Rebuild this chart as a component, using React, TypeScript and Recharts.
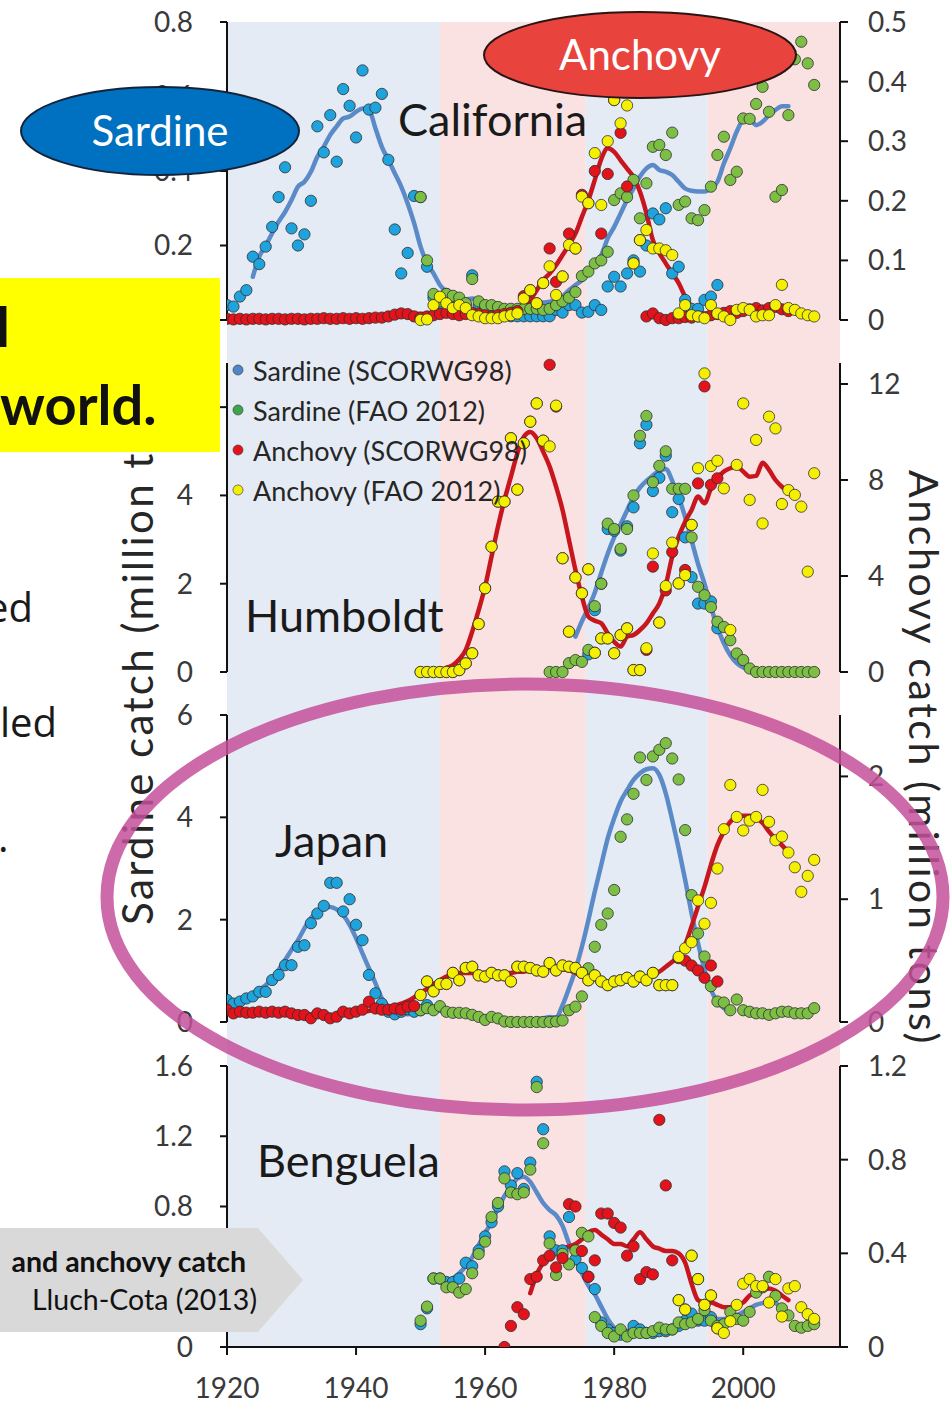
import React from 'react';
import {
  ComposedChart, Scatter, Line, XAxis, YAxis, ZAxis,
  ReferenceArea, ReferenceLine, Legend,
} from 'recharts';

// ---------------- DATA ----------------
const YEAR_TICKS = [1920, 1940, 1960, 1980, 2000];

// California (sardine: left axis, million t; anchovy: right axis, million t)
const calSarSC = [
  0.04, 0.036, 0.063, 0.08, 0.17, 0.15, 0.197, 0.25, 0.33, 0.41,
  0.246, 0.2, 0.23, 0.32, 0.52, 0.45, 0.55, 0.425, 0.62, 0.575,
  0.49, 0.67, 0.565, 0.57, 0.607, 0.43, 0.243, 0.125, 0.18, 0.333,
  0.33, 0.143, 0.06, 0.045, 0.07, 0.06, 0.05, 0.04, 0.12, 0.04,
  0.03, 0.03, 0.02, 0.02, 0.01, 0.01, 0.01, 0.01, 0.01, 0.01,
  0.01, 0.027, 0.02, 0.04, 0.04, 0.02, 0.022, 0.04, 0.027, 0.09,
  0.116, 0.09, 0.125, 0.16, 0.13, 0.2, 0.286, 0.27, 0.3, 0.125,
  0.143, 0.054, 0.03, 0.03, 0.054, 0.063, 0.094,
]; // 1920-1996
const calSarFAO = [
  0.33, 0.16, 0.07, 0.05, 0.07, 0.065, 0.06, 0.045, 0.11, 0.05,
  0.04, 0.04, 0.035, 0.03, 0.03, 0.03, 0.03, 0.03, 0.03, 0.027,
  0.03, 0.04, 0.05, 0.06, 0.075, 0.118, 0.13, 0.152, 0.16, 0.183,
  0.322, 0.34, 0.33, 0.376, 0.273, 0.367, 0.465, 0.47, 0.443, 0.503,
  0.309, 0.318, 0.273, 0.268, 0.295, 0.358, 0.443, 0.492, 0.376, 0.398,
  0.541, 0.54, 0.58, 0.626, 0.559, 0.331, 0.349, 0.55, 0.7, 0.747, 0.689, 0.631,
]; // 1950-2011
const calAncSC = [
  0.002, 0.001, 0.002, 0.001, 0.002, 0.002, 0.001, 0.002, 0.002, 0.001,
  0.002, 0.002, 0.001, 0.002, 0.002, 0.003, 0.002, 0.002, 0.003, 0.002,
  0.003, 0.002, 0.003, 0.004, 0.004, 0.006, 0.009, 0.011, 0.01, 0.006,
  0.004, 0.006, 0.008, 0.01, 0.012, 0.01, 0.008, 0.01, 0.012, 0.01,
  0.008, 0.006, 0.008, 0.01, 0.012, 0.015, 0.04, 0.05, 0.028, 0.062,
  0.12, 0.064, 0.073, 0.145, 0.12, 0.21, 0.196, 0.25, 0.145, 0.245,
  0.369, 0.314, 0.224, 0.095, 0.134, 0.006, 0.011, 0.003, 0.0, 0.003,
  0.003, 0.005, 0.004, 0.006, 0.005, 0.008, 0.01, 0.012, 0.015, 0.012,
  0.015, 0.018, 0.02, 0.016, 0.02, 0.022, 0.018, 0.015,
]; // 1920-2007
const calAncFAO = [
  0.0, 0.001, 0.025, 0.039, 0.028, 0.02, 0.025, 0.02, 0.008, 0.006,
  0.003, 0.003, 0.003, 0.006, 0.008, 0.011, 0.036, 0.05, 0.028, 0.062,
  0.09, 0.042, 0.073, 0.126, 0.12, 0.207, 0.196, 0.28, 0.193, 0.3,
  0.369, 0.33, 0.36, 0.095, 0.134, 0.151, 0.12, 0.12, 0.117, 0.109,
  0.011, 0.025, 0.008, 0.006, 0.003, 0.025, 0.011, 0.006, 0.0, 0.017,
  0.02, 0.017, 0.006, 0.008, 0.008, 0.025, 0.059, 0.02, 0.017, 0.011, 0.008, 0.006,
]; // 1950-2011
const calSarLine = [
  0.116, 0.17, 0.2, 0.233, 0.264, 0.29,
  0.322, 0.358, 0.371, 0.398, 0.438, 0.465, 0.497, 0.52, 0.541, 0.546,
  0.559, 0.568, 0.564, 0.515, 0.465, 0.43, 0.394, 0.358, 0.313, 0.26,
  0.197, 0.152, 0.125, 0.094, 0.076, 0.063, 0.055, 0.055, 0.058, 0.054,
  0.047, 0.038, 0.031, 0.031, 0.034, 0.038, 0.04, 0.04, 0.043, 0.047,
  0.049, 0.054, 0.064, 0.08, 0.094, 0.107, 0.13, 0.152, 0.174, 0.219,
  0.25, 0.286, 0.322, 0.353, 0.385, 0.407, 0.416, 0.403, 0.398, 0.389,
  0.371, 0.353, 0.347, 0.345, 0.345, 0.353, 0.371, 0.42, 0.461, 0.506,
  0.537, 0.541, 0.523, 0.532, 0.55, 0.564, 0.574, 0.574,
]; // 1924-2007
const calAncLine = [
  0.003, 0.003, 0.003, 0.003, 0.003, 0.003, 0.003, 0.003, 0.003, 0.003,
  0.003, 0.003, 0.003, 0.003, 0.003, 0.003, 0.003, 0.003, 0.003, 0.003,
  0.003, 0.003, 0.003, 0.004, 0.004, 0.005, 0.006, 0.008, 0.01, 0.01,
  0.01, 0.01, 0.01, 0.01, 0.01, 0.01, 0.01, 0.01, 0.01, 0.01,
  0.01, 0.01, 0.011, 0.012, 0.014, 0.017, 0.023, 0.034, 0.05, 0.067,
  0.078, 0.092, 0.109, 0.126, 0.145, 0.173, 0.201, 0.235, 0.27, 0.288,
  0.282, 0.268, 0.254, 0.24, 0.215, 0.179, 0.134, 0.112, 0.095, 0.078,
  0.062, 0.039, 0.022, 0.008, 0.001, 0.005, 0.012, 0.013, 0.012, 0.012,
  0.012, 0.013, 0.014, 0.014, 0.018, 0.022, 0.02, 0.016,
]; // 1920-2007

// Humboldt
const humSarSC = [
  0.4, 1.4, 2.0, 3.24, 3.2, 2.75, 3.3, 3.73, 5.18, 5.6,
  4.1, 4.4, 4.9, 3.62, 3.92, 3.05, 2.15, 1.55, 1.55, 1.6, 0.99,
]; // 1976-1996
const humSarFAO = [
  0, 0, 0, 0.2, 0.27, 0.23, 0.5, 1.49, 2.0, 3.36,
  3.24, 2.79, 3.24, 4.0, 5.35, 5.8, 4.3, 4.67, 5.0, 4.15,
  4.15, 4.15, 3.05, 1.93, 1.74, 1.47, 1.14, 1.02, 0.72, 0.42,
  0.27, 0.08, 0, 0, 0, 0, 0, 0, 0, 0, 0, 0,
]; // 1970-2011
const humAncSC = [
  0, 0, 0, 0, 0, 0, 0.08, 0.36, 0.78, 2.0,
  3.49, 5.22, 7.1, 7.1, 9.74, 7.6, 9.53, 10.43, 11.19, 9.64,
  12.8, 11.06, 4.74, 1.68, 3.94, 3.28, 4.28, 0.8, 1.4, 1.4,
  0.78, 1.54, 1.82, 0.08, 0.08, 0.92, 4.39, 2.06, 3.4, 5.0,
  3.69, 4.25, 6.13, 7.86, 11.9, 7.8, 8.07,
]; // 1950-1996
const humAncFAO = [
  0, 0, 0, 0, 0, 0, 0.08, 0.36, 0.78, 2.0,
  3.49, 5.22, 7.1, 7.1, 9.74, 7.6, 9.53, 10.43, 11.19, 9.64,
  9.4, 11.1, 4.74, 1.68, 3.94, 3.28, 4.28, 0.8, 1.4, 1.4,
  0.78, 1.54, 1.82, 0.08, 0.08, 0.99, 4.94, 2.06, 3.58, 5.39,
  3.69, 4.04, 6.13, 8.49, 12.44, 8.58, 8.8, 7.65, 1.75, 8.63,
  11.19, 7.17, 9.67, 6.19, 10.64, 10.15, 7.0, 7.58, 7.38, 6.89, 4.18, 8.28,
]; // 1950-2011
const humSarLine = [
  0.8, 1.15, 1.45, 1.8, 2.25, 2.68, 3.05, 3.35, 3.66, 3.96,
  4.18, 4.33, 4.45, 4.56, 4.6, 4.33, 3.96, 3.51, 2.98, 2.45,
  2.0, 1.47, 1.02, 0.65, 0.38, 0.2, 0.1, 0.06, 0.05, 0.03,
]; // 1974-2003
const humAncLine = [
  0.18, 0.29, 0.53, 0.92, 1.68, 2.58,
  3.56, 4.81, 6.06, 7.17, 8.14, 9.11, 9.8, 10.0, 9.74, 9.18,
  8.56, 7.72, 6.75, 5.5, 4.25, 3.14, 2.31, 2.14, 2.03, 1.61,
  1.26, 1.06, 1.47, 1.54, 1.75, 2.03, 2.44, 2.86, 3.63, 4.81,
  5.64, 6.26, 6.75, 7.31, 7.03, 7.65, 8.07, 8.35, 8.49, 8.56,
  8.35, 8.14, 8.17, 8.72, 8.42, 8.0, 7.72, 7.51,
]; // 1954-2007

// Japan
const japSarSC = [
  0.43, 0.36, 0.4, 0.46, 0.5, 0.59, 0.59, 0.82, 0.92, 1.11,
  1.11, 1.47, 1.5, 1.93, 2.12, 2.27, 2.72, 2.72, 2.16, 2.4,
  1.9, 1.6, 0.92, 0.56, 0.36, 0.2, 0.15, 0.2, 0.25, 0.2,
  0.23, 0.33,
]; // 1920-1951
const japSarFAO = [
  0.23, 0.27, 0.23, 0.31, 0.2, 0.18, 0.18, 0.17, 0.14, 0.1,
  0.04, 0.1, 0.07, 0.01, 0.0, 0.0, 0.0, 0.0, 0.0, 0.0,
  0.0, 0.01, 0.03, 0.23, 0.3, 0.5, 1.05, 1.47, 1.9, 2.12,
  2.58, 3.62, 3.96, 4.46, 5.17, 4.73, 5.19, 5.32, 5.45, 5.15,
  4.74, 3.75, 2.48, 1.73, 1.28, 0.7, 0.4, 0.38, 0.23, 0.44,
  0.23, 0.2, 0.17, 0.17, 0.14, 0.17, 0.2, 0.2, 0.17, 0.17, 0.17, 0.27,
]; // 1950-2011
const japAncSC = [
  0.1, 0.07, 0.084, 0.076, 0.076, 0.084, 0.076, 0.084, 0.076, 0.084,
  0.07, 0.057, 0.057, 0.03, 0.07, 0.057, 0.03, 0.043, 0.084, 0.07,
  0.084, 0.1, 0.165, 0.11, 0.1, 0.1, 0.11, 0.1, 0.125, 0.13,
  0.22, 0.33, 0.25, 0.31, 0.31, 0.4, 0.34, 0.44, 0.45, 0.38,
  0.37, 0.4, 0.38, 0.38, 0.33, 0.45, 0.45, 0.44, 0.42, 0.41,
  0.48, 0.42, 0.46, 0.45, 0.44, 0.4, 0.34, 0.38, 0.33, 0.3,
  0.33, 0.34, 0.36, 0.33, 0.37, 0.34, 0.4, 0.3, 0.3, 0.3,
  0.52, 0.5, 0.46, 0.42, 0.36, 0.46, 0.33,
]; // 1920-1996
const japAncFAO = [
  0.22, 0.33, 0.25, 0.31, 0.31, 0.4, 0.34, 0.44, 0.45, 0.38,
  0.37, 0.4, 0.38, 0.38, 0.33, 0.45, 0.45, 0.44, 0.42, 0.41,
  0.48, 0.42, 0.46, 0.45, 0.44, 0.4, 0.34, 0.38, 0.33, 0.3,
  0.33, 0.34, 0.36, 0.33, 0.37, 0.34, 0.4, 0.3, 0.3, 0.3,
  0.53, 0.6, 0.65, 0.99, 0.8, 0.97, 1.25, 1.57, 1.93, 1.67,
  1.56, 1.64, 1.67, 1.89, 1.63, 1.48, 1.51, 1.38, 1.26, 1.06, 1.19, 1.32,
]; // 1950-2011
const japSarLine = [
  0.33, 0.38, 0.42, 0.48, 0.54, 0.63, 0.72, 0.85, 1.02, 1.21,
  1.41, 1.6, 1.83, 2.03, 2.16, 2.23, 2.25, 2.2, 2.09, 1.9,
  1.64, 1.34, 1.05, 0.76, 0.46, 0.3, 0.2, 0.17, 0.15, 0.18,
  0.2, 0.22, 0.23, 0.22, 0.2, 0.17, 0.14, 0.12, 0.1, 0.08,
  0.07, 0.06, 0.05, 0.05, 0.05, 0.05, 0.05, 0.05, 0.06, 0.07,
  0.1, 0.09, 0.33, 0.66, 1.02, 1.47, 1.99, 2.55, 3.07, 3.59,
  3.98, 4.31, 4.53, 4.73, 4.86, 4.94, 4.96, 4.83, 4.47, 3.95,
  3.39, 2.78, 2.12, 1.54, 1.02, 0.63, 0.4, 0.27, 0.2,
]; // 1920-1998
const japAncLine = [
  0.08, 0.08, 0.08, 0.08, 0.08, 0.08, 0.08, 0.078, 0.076, 0.075,
  0.072, 0.068, 0.064, 0.06, 0.058, 0.056, 0.055, 0.058, 0.064, 0.072,
  0.08, 0.084, 0.09, 0.1, 0.11, 0.12, 0.13, 0.15, 0.17, 0.2,
  0.24, 0.27, 0.31, 0.34, 0.37, 0.39, 0.4, 0.4, 0.4, 0.4,
  0.4, 0.4, 0.4, 0.4, 0.4, 0.41, 0.41, 0.42, 0.43, 0.43,
  0.44, 0.43, 0.43, 0.42, 0.4, 0.38, 0.36, 0.35, 0.33, 0.33,
  0.33, 0.33, 0.34, 0.35, 0.36, 0.37, 0.38, 0.41, 0.45, 0.49,
  0.54, 0.63, 0.78, 0.94, 1.1, 1.28, 1.44, 1.55, 1.63, 1.67,
  1.68, 1.68, 1.66, 1.62, 1.55, 1.49, 1.44, 1.38,
]; // 1920-2007

// Benguela
const bngSarSC = [
  0.13, 0.22, 0.39, 0.39, 0.37, 0.37, 0.39, 0.48, 0.46, 0.55,
  0.63, 0.71, 0.8, 1.0, 0.92, 0.99, 0.9, 1.05, 1.51, 1.24,
  0.63, 0.55, 0.55, 0.74, 0.5, 0.45, 0.4, 0.33, 0.14, 0.1,
  0.08, 0.07, 0.07, 0.12, 0.1, 0.08, 0.08, 0.09, 0.09, 0.1,
  0.12, 0.15, 0.19, 0.15, 0.15, 0.17,
]; // 1950-1995
const bngSarFAO = [
  0.15, 0.23, 0.39, 0.39, 0.34, 0.34, 0.31, 0.33, 0.42, 0.53,
  0.6, 0.74, 0.82, 0.96, 0.88, 0.87, 0.88, 1.01, 1.48, 1.16,
  0.59, 0.41, 0.53, 0.47, 0.55, 0.65, 0.63, 0.17, 0.12, 0.08,
  0.06, 0.1, 0.06, 0.08, 0.08, 0.08, 0.09, 0.11, 0.1, 0.1,
  0.14, 0.13, 0.14, 0.16, 0.21, 0.15, 0.12, 0.13, 0.2, 0.16,
  0.15, 0.2, 0.31, 0.34, 0.4, 0.29, 0.22, 0.18, 0.12, 0.11, 0.12, 0.13,
]; // 1950-2011
const bngAncSC = [
  0.0, 0.09, 0.17, 0.14, 0.29, 0.3, 0.37,
  0.39, 0.34, 0.38, 0.61, 0.6, 0.41, 0.3, 0.37, 0.57, 0.57,
  0.53, 0.51, 0.39, 0.43, 0.29, 0.32, 0.31, 0.97, 0.69, 0.37,
  0.2, 0.16, 0.39, 0.29, 0.18, 0.22, 0.08,
]; // 1963-1996
const bngAncFAO = [
  0.2, 0.16, 0.39, 0.29, 0.18, 0.22, 0.08, 0.06, 0.11, 0.18,
  0.27, 0.29, 0.26, 0.26, 0.19, 0.29, 0.13, 0.25, 0.26, 0.17, 0.14, 0.12,
]; // 1990-2011
const bngSarLine = [
  0.39, 0.42, 0.46, 0.51, 0.58,
  0.65, 0.71, 0.79, 0.86, 0.91, 0.96, 0.97, 0.94, 0.88, 0.82,
  0.78, 0.75, 0.69, 0.59, 0.5, 0.42, 0.35, 0.3, 0.23, 0.16,
  0.11, 0.08, 0.08, 0.08, 0.08, 0.08, 0.08, 0.09, 0.09, 0.1,
  0.11, 0.13, 0.15, 0.16, 0.17, 0.17, 0.16, 0.16, 0.17, 0.18,
  0.2, 0.22, 0.24, 0.25, 0.26, 0.25, 0.22, 0.19,
]; // 1955-2007
const bngAncLine = [
  0.23, 0.31, 0.36,
  0.4, 0.41, 0.42, 0.43, 0.44, 0.46, 0.49, 0.5, 0.48, 0.46,
  0.44, 0.44, 0.43, 0.46, 0.49, 0.46, 0.43, 0.42, 0.41, 0.41,
  0.4, 0.36, 0.27, 0.2, 0.19, 0.19, 0.18, 0.17, 0.17, 0.18,
  0.19, 0.22, 0.23, 0.24, 0.25, 0.24, 0.22, 0.2,
]; // 1967-2007

const legendItems = [
  { label: 'Sardine (SCORWG98)', color: '#4F86C6' },
  { label: 'Sardine (FAO 2012)', color: '#3DA54A' },
  { label: 'Anchovy (SCORWG98)', color: '#E3121B' },
  { label: 'Anchovy (FAO 2012)', color: '#F4F000' },
];

// ---------------- STYLE / LAYOUT ----------------
const W = 951;
const H = 1404;
const PLOT_TOP = 22;
const PLOT_BOTTOM = 1347;
const PLOT_LEFT = 227;
const PLOT_RIGHT = 840;
const AXIS_W = 0.01;

const DOT_BLUE = '#1FA3DD';
const DOT_GREEN = '#7DBF45';
const DOT_RED = '#E3121B';
const DOT_YELLOW = '#F4F000';
const LINE_BLUE = '#5B8AC8';
const LINE_RED = '#C8161E';
const BAND_BLUE = '#E5EBF4';
const BAND_PINK = '#FAE2E2';

const bands = [
  { from: 1920, to: 1953, color: BAND_BLUE },
  { from: 1953, to: 1975.6, color: BAND_PINK },
  { from: 1975.6, to: 1994.5, color: BAND_BLUE },
  { from: 1994.5, to: 2015, color: BAND_PINK },
];

const pts = (start: number, vals: number[]) => vals.map((y, i) => ({ x: start + i, y }));

type Series = { start: number; vals: number[] };
type Panel = {
  id: string; top: number; bottom: number;
  leftMax: number; rightMax: number; leftTicks: number[]; rightTicks: number[];
  sarLine: Series; ancLine: Series;
  sarSC: Series; sarFAO: Series; ancSC: Series; ancFAO: Series;
};

const panels: Panel[] = [
  {
    id: 'cal', top: 22, bottom: 320, leftMax: 0.8, rightMax: 0.5,
    leftTicks: [0, 0.2, 0.4, 0.6, 0.8], rightTicks: [0, 0.1, 0.2, 0.3, 0.4, 0.5],
    sarLine: { start: 1924, vals: calSarLine }, ancLine: { start: 1920, vals: calAncLine },
    sarSC: { start: 1920, vals: calSarSC }, sarFAO: { start: 1950, vals: calSarFAO },
    ancSC: { start: 1920, vals: calAncSC }, ancFAO: { start: 1950, vals: calAncFAO },
  },
  {
    id: 'hum', top: 363, bottom: 672, leftMax: 7, rightMax: 12.875,
    leftTicks: [0, 2, 4, 6], rightTicks: [0, 4, 8, 12],
    sarLine: { start: 1974, vals: humSarLine }, ancLine: { start: 1954, vals: humAncLine },
    sarSC: { start: 1976, vals: humSarSC }, sarFAO: { start: 1970, vals: humSarFAO },
    ancSC: { start: 1950, vals: humAncSC }, ancFAO: { start: 1950, vals: humAncFAO },
  },
  {
    id: 'jap', top: 715, bottom: 1022, leftMax: 6, rightMax: 2.5,
    leftTicks: [0, 2, 4, 6], rightTicks: [0, 1, 2],
    sarLine: { start: 1920, vals: japSarLine }, ancLine: { start: 1920, vals: japAncLine },
    sarSC: { start: 1920, vals: japSarSC }, sarFAO: { start: 1950, vals: japSarFAO },
    ancSC: { start: 1920, vals: japAncSC }, ancFAO: { start: 1950, vals: japAncFAO },
  },
  {
    id: 'ben', top: 1066, bottom: 1347, leftMax: 1.6, rightMax: 1.2,
    leftTicks: [0, 0.4, 0.8, 1.2, 1.6], rightTicks: [0, 0.4, 0.8, 1.2],
    sarLine: { start: 1955, vals: bngSarLine }, ancLine: { start: 1967, vals: bngAncLine },
    sarSC: { start: 1950, vals: bngSarSC }, sarFAO: { start: 1950, vals: bngSarFAO },
    ancSC: { start: 1963, vals: bngAncSC }, ancFAO: { start: 1990, vals: bngAncFAO },
  },
];

// domain so that [0, max] occupies pixel rows [bottom, top] of the shared plot area
const panelDomain = (top: number, bottom: number, max: number): [number, number] => {
  const s = (bottom - top) / max;
  return [-(PLOT_BOTTOM - bottom) / s, max + (top - PLOT_TOP) / s];
};

const tickStyle = { fill: '#3a3a3a', fontSize: 28, fontFamily: 'Lato' };
const axisStroke = { stroke: '#111', strokeWidth: 2 };

const renderLegend = () => (
  <div style={{ fontFamily: 'Lato', fontSize: 27, color: '#262626' }}>
    {legendItems.map((it) => (
      <div key={it.label} style={{ display: 'flex', alignItems: 'center', height: 40 }}>
        <svg width={18} height={14} style={{ flex: 'none' }}>
          <circle cx={9} cy={7} r={5} fill={it.color} stroke="#444" strokeWidth={0.7} />
        </svg>
        <span style={{ marginLeft: 6, whiteSpace: 'nowrap' }}>{it.label}</span>
      </div>
    ))}
  </div>
);

const dotProps = { stroke: '#2e2e2e', strokeWidth: 0.8, isAnimationActive: false };
const lineProps = {
  type: 'monotone' as const, dataKey: 'y', dot: false, activeDot: false,
  strokeWidth: 4.5, isAnimationActive: false, strokeLinecap: 'round' as const,
};

export default function App() {
  return (
    <div style={{ position: 'absolute', left: 0, top: 0, width: W, height: H, background: '#fff', overflow: 'hidden' }}>
      <div style={{ position: 'absolute', left: 0, top: 0 }}>
        <ComposedChart
          width={W}
          height={H}
          margin={{ top: PLOT_TOP, right: W - PLOT_RIGHT - 4 * AXIS_W, bottom: H - PLOT_BOTTOM - 40, left: PLOT_LEFT - 4 * AXIS_W }}
        >
          <XAxis
            type="number" dataKey="x" domain={[1920, 2015]} ticks={YEAR_TICKS}
            allowDataOverflow height={40} tickSize={8} tickMargin={23} interval={0}
            axisLine={axisStroke} tickLine={axisStroke} tick={tickStyle}
          />
          {panels.map((p) => (
            <YAxis
              key={p.id + 'L'} yAxisId={p.id + 'L'} orientation="left" type="number" dataKey="y"
              domain={panelDomain(p.top, p.bottom, p.leftMax)} ticks={p.leftTicks} interval={0}
              allowDataOverflow width={AXIS_W} axisLine={false} tickLine={axisStroke}
              tickSize={7} tickMargin={27} tick={tickStyle}
            />
          ))}
          {panels.map((p) => (
            <YAxis
              key={p.id + 'R'} yAxisId={p.id + 'R'} orientation="right" type="number" dataKey="y"
              domain={panelDomain(p.top, p.bottom, p.rightMax)} ticks={p.rightTicks} interval={0}
              allowDataOverflow width={AXIS_W} axisLine={false} tickLine={axisStroke}
              tickSize={8} tickMargin={20} tick={tickStyle}
            />
          ))}
          <ZAxis type="number" range={[100, 100]} />

          {bands.map((b) => (
            <ReferenceArea
              key={'band' + b.from} yAxisId="calL" x1={b.from} x2={b.to}
              fill={b.color} fillOpacity={1} stroke="none" ifOverflow="visible"
            />
          ))}

          {panels.map((p) => (
            <ReferenceLine
              key={p.id + 'axL'} yAxisId={p.id + 'L'} ifOverflow="visible"
              segment={[{ x: 1920, y: 0 }, { x: 1920, y: p.leftMax }]}
              stroke="#111" strokeWidth={2}
            />
          ))}
          {panels.map((p) => (
            <ReferenceLine
              key={p.id + 'axR'} yAxisId={p.id + 'R'} ifOverflow="visible"
              segment={[{ x: 2015, y: 0 }, { x: 2015, y: p.rightMax }]}
              stroke="#111" strokeWidth={2}
            />
          ))}

          {panels.map((p) => (
            <Line key={p.id + 'sl'} yAxisId={p.id + 'L'} data={pts(p.sarLine.start, p.sarLine.vals)}
              stroke={LINE_BLUE} {...lineProps} />
          ))}
          {panels.map((p) => (
            <Line key={p.id + 'al'} yAxisId={p.id + 'R'} data={pts(p.ancLine.start, p.ancLine.vals)}
              stroke={LINE_RED} {...lineProps} />
          ))}

          {panels.map((p) => (
            <Scatter key={p.id + 'ss'} yAxisId={p.id + 'L'} data={pts(p.sarSC.start, p.sarSC.vals)}
              fill={DOT_BLUE} {...dotProps} />
          ))}
          {panels.map((p) => (
            <Scatter key={p.id + 'sf'} yAxisId={p.id + 'L'} data={pts(p.sarFAO.start, p.sarFAO.vals)}
              fill={DOT_GREEN} {...dotProps} />
          ))}
          {panels.map((p) => (
            <Scatter key={p.id + 'as'} yAxisId={p.id + 'R'} data={pts(p.ancSC.start, p.ancSC.vals)}
              fill={DOT_RED} {...dotProps} />
          ))}
          {panels.map((p) => (
            <Scatter key={p.id + 'af'} yAxisId={p.id + 'R'} data={pts(p.ancFAO.start, p.ancFAO.vals)}
              fill={DOT_YELLOW} {...dotProps} />
          ))}

          <Legend
            layout="horizontal" verticalAlign="middle" align="center"
            content={renderLegend}
            wrapperStyle={{ position: 'absolute', left: 229, top: 350, width: 330, height: 160 }}
          />
        </ComposedChart>
      </div>

      <svg width={W} height={H} style={{ position: 'absolute', left: 0, top: 0, pointerEvents: 'none' }}>
        {/* axis titles */}
        <text transform="translate(153,925) rotate(-90)" fontFamily="Lato" fontSize={42} letterSpacing={2.4} fill="#262626">
          Sardine catch (million tons)
        </text>
        <text transform="translate(909,470) rotate(90)" fontFamily="Lato" fontSize={41} letterSpacing={2.6} fill="#262626">
          Anchovy catch (million tons)
        </text>

        {/* region names */}
        <text x={398} y={136} fontFamily="Lato" fontSize={45} fill="#1a1a1a">California</text>
        <text x={245} y={632} fontFamily="Lato" fontSize={45} fill="#1a1a1a">Humboldt</text>
        <text x={275} y={857} fontFamily="Lato" fontSize={45} fill="#1a1a1a">Japan</text>
        <text x={257} y={1177} fontFamily="Lato" fontSize={45} fill="#1a1a1a">Benguela</text>

        {/* cropped slide text on the left */}
        <rect x={0} y={278} width={220} height={174} fill="#FFFF00" />
        <text x={-4} y={347} fontFamily="Lato" fontWeight={700} fontSize={56} fill="#111">l</text>
        <text x={0} y={425} fontFamily="Lato" fontWeight={700} fontSize={56} fill="#111">world.</text>
        <text x={-14} y={622} fontFamily="Open Sans" fontSize={40} fill="#1a1a1a">ed</text>
        <text x={0} y={737} fontFamily="Open Sans" fontSize={40} fill="#1a1a1a">led</text>
        <text x={-2} y={852} fontFamily="Open Sans" fontSize={40} fill="#1a1a1a">.</text>

        {/* species call-outs */}
        <ellipse cx={160} cy={131} rx={139} ry={44} fill="#0070C0" stroke="#15233a" strokeWidth={2} />
        <text x={160} y={146} textAnchor="middle" fontFamily="Lato" fontSize={42} fill="#fff">Sardine</text>
        <ellipse cx={640} cy={55} rx={156} ry={43} fill="#E8433D" stroke="#2a1414" strokeWidth={2} />
        <text x={640} y={70} textAnchor="middle" fontFamily="Lato" fontSize={42} fill="#fff">Anchovy</text>

        {/* Japan highlight */}
        <ellipse cx={525} cy={897} rx={418} ry={213} fill="none" stroke="#C4509A" strokeOpacity={0.85} strokeWidth={13} />

        {/* source tag */}
        <polygon points="0,1228 258,1228 303,1280 258,1332 0,1332" fill="#D9D9D9" />
        <text x={246} y={1272} textAnchor="end" fontFamily="Lato" fontWeight={700} fontSize={28.5} fill="#111">
          and anchovy catch
        </text>
        <text x={257} y={1310} textAnchor="end" fontFamily="Lato" fontSize={28.5} fill="#111">
          Lluch-Cota (2013)
        </text>
      </svg>
    </div>
  );
}
